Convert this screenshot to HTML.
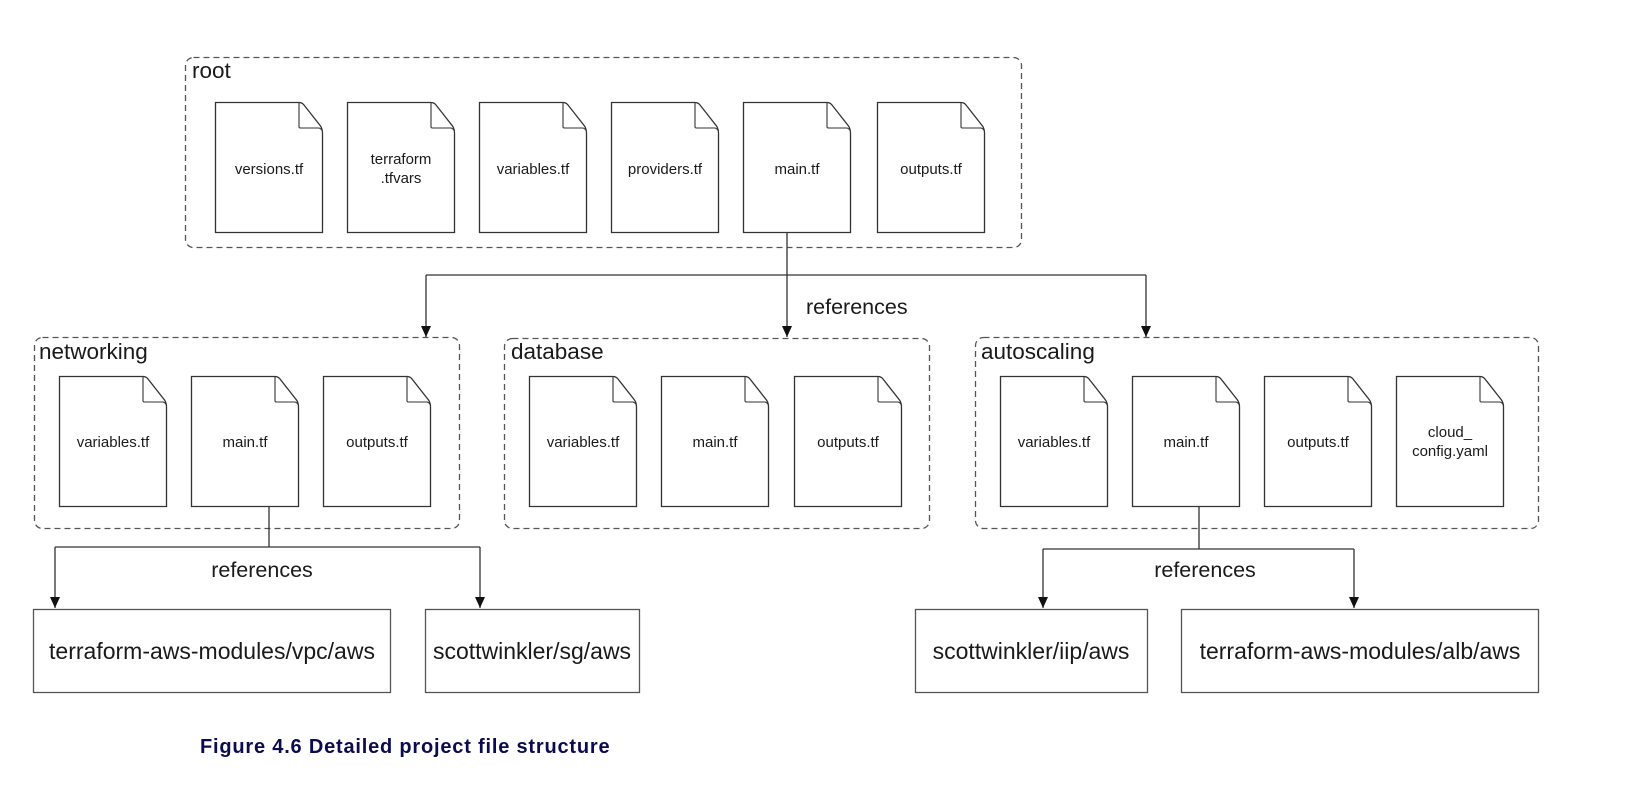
<!DOCTYPE html>
<html><head><meta charset="utf-8"><style>
html,body{margin:0;padding:0;background:#fff;}
svg{display:block;}
text{font-family:"Liberation Sans",Arial,sans-serif;fill:#1a1a1a;}
.f{font-size:15px;text-anchor:middle;}
.g{font-size:22.5px;}
.r{font-size:21.5px;}
.m{font-size:23px;text-anchor:middle;}
</style></head><body>
<svg width="1638" height="796" viewBox="0 0 1638 796" xmlns="http://www.w3.org/2000/svg">
<defs>
<g id="file">
<path d="M0.5,0.5 H84 Q87,0.5 89,3 L105.5,24 Q107.5,27 107.5,31 V130.5 H0.5 Z" fill="#fff" stroke="#333" stroke-width="1.3"/>
<path d="M84,0.5 V25 Q84,26 86,26 H104 Q106,26.5 107.5,29" fill="none" stroke="#333" stroke-width="1.1"/>
</g>
<marker id="ar" markerWidth="12" markerHeight="12" refX="6" refY="11" orient="0" markerUnits="userSpaceOnUse">
<path d="M1,0 L11,0 L6,11 Z" fill="#111"/>
</marker>
</defs>
<g fill="none" stroke="#555" stroke-width="1.3" stroke-dasharray="6,4">
<rect x="185.5" y="57.5" width="836" height="190" rx="8"/>
<rect x="34.5" y="337.5" width="425" height="191" rx="8"/>
<rect x="504.5" y="338.5" width="425" height="190" rx="8"/>
<rect x="975.5" y="337.5" width="563" height="191" rx="8"/>
</g>
<text class="g" x="192" y="78">root</text>
<text class="g" x="39" y="359">networking</text>
<text class="g" x="511" y="359">database</text>
<text class="g" x="981" y="359">autoscaling</text>

<use href="#file" x="215" y="102"/><use href="#file" x="347" y="102"/><use href="#file" x="479" y="102"/>
<use href="#file" x="611" y="102"/><use href="#file" x="743" y="102"/><use href="#file" x="877" y="102"/>
<text class="f" x="269" y="174">versions.tf</text>
<text class="f" x="401" y="164">terraform</text><text class="f" x="401" y="183">.tfvars</text>
<text class="f" x="533" y="174">variables.tf</text>
<text class="f" x="665" y="174">providers.tf</text>
<text class="f" x="797" y="174">main.tf</text>
<text class="f" x="931" y="174">outputs.tf</text>

<use href="#file" x="59" y="376"/><use href="#file" x="191" y="376"/><use href="#file" x="323" y="376"/>
<text class="f" x="113" y="447">variables.tf</text>
<text class="f" x="245" y="447">main.tf</text>
<text class="f" x="377" y="447">outputs.tf</text>

<use href="#file" x="529" y="376"/><use href="#file" x="661" y="376"/><use href="#file" x="794" y="376"/>
<text class="f" x="583" y="447">variables.tf</text>
<text class="f" x="715" y="447">main.tf</text>
<text class="f" x="848" y="447">outputs.tf</text>

<use href="#file" x="1000" y="376"/><use href="#file" x="1132" y="376"/><use href="#file" x="1264" y="376"/><use href="#file" x="1396" y="376"/>
<text class="f" x="1054" y="447">variables.tf</text>
<text class="f" x="1186" y="447">main.tf</text>
<text class="f" x="1318" y="447">outputs.tf</text>
<text class="f" x="1450" y="437">cloud_</text><text class="f" x="1450" y="456">config.yaml</text>

<g stroke="#333" stroke-width="1.3" fill="none">
<path d="M787,233 V337" marker-end="url(#ar)"/>
<path d="M426,275 H1146"/>
<path d="M426,275 V337" marker-end="url(#ar)"/>
<path d="M1146,275 V337" marker-end="url(#ar)"/>
<path d="M269,507 V547 M55,547 H480"/>
<path d="M55,547 V608" marker-end="url(#ar)"/>
<path d="M480,547 V608" marker-end="url(#ar)"/>
<path d="M1199,507 V549 M1043,549 H1354"/>
<path d="M1043,549 V608" marker-end="url(#ar)"/>
<path d="M1354,549 V608" marker-end="url(#ar)"/>
</g>
<text class="r" x="806" y="314">references</text>
<text class="r" x="262" y="577" text-anchor="middle">references</text>
<text class="r" x="1205" y="577" text-anchor="middle">references</text>

<g fill="#fff" stroke="#555" stroke-width="1.3">
<rect x="33.5" y="609.5" width="357" height="83"/>
<rect x="425.5" y="609.5" width="214" height="83"/>
<rect x="915.5" y="609.5" width="232" height="83"/>
<rect x="1181.5" y="609.5" width="357" height="83"/>
</g>
<text class="m" x="212" y="659">terraform-aws-modules/vpc/aws</text>
<text class="m" x="532" y="659">scottwinkler/sg/aws</text>
<text class="m" x="1031" y="659">scottwinkler/iip/aws</text>
<text class="m" x="1360" y="659">terraform-aws-modules/alb/aws</text>

<text x="200" y="753" style="font-size:20px;font-weight:bold;fill:#0b0b4f;letter-spacing:0.8px;">Figure 4.6 Detailed project file structure</text>
</svg>
</body></html>
